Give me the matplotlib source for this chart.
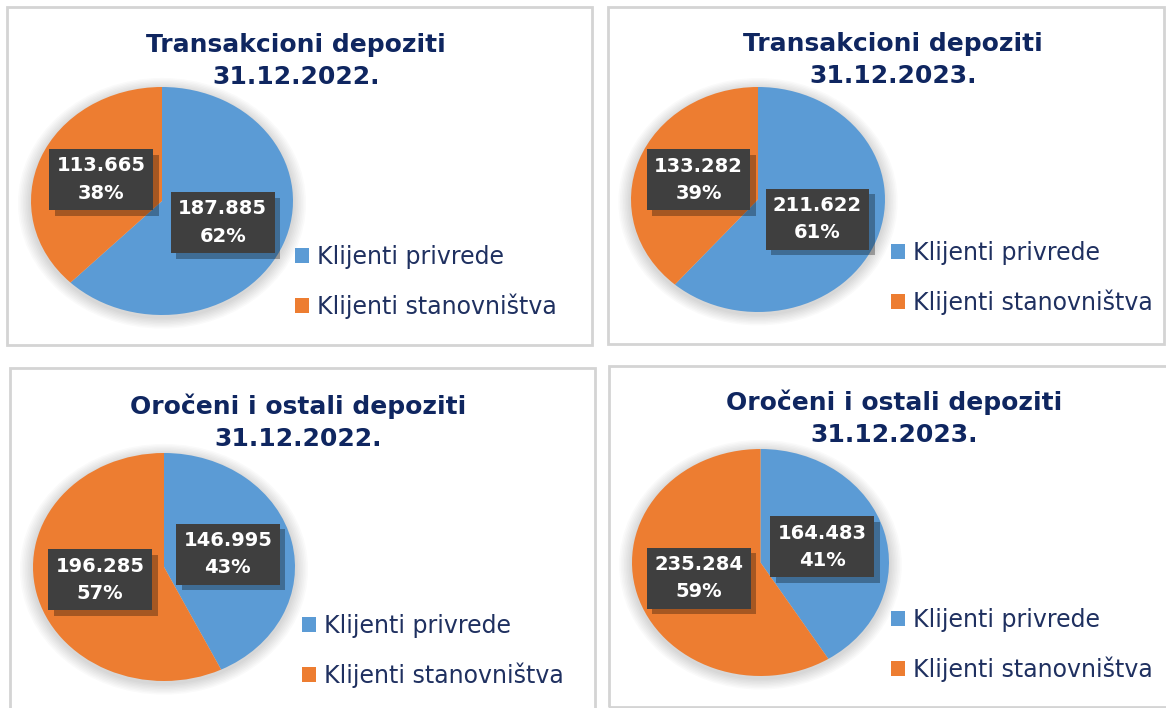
import numpy as np
import matplotlib.pyplot as plt
from matplotlib.patches import Rectangle, Ellipse
import matplotlib.patheffects as pe

W, H = 1166, 708

# data
titles = ["Transakcioni depoziti\n31.12.2022.",
          "Transakcioni depoziti\n31.12.2023.",
          "Oročeni i ostali depoziti\n31.12.2022.",
          "Oročeni i ostali depoziti\n31.12.2023."]
privrede = [187885, 211622, 146995, 164483]
stanovnistvo = [113665, 133282, 196285, 235284]
legend_labels = ["Klijenti privrede", "Klijenti stanovništva"]
colors = ["#5b9bd5", "#ed7d31"]

# layout in pixels (x0, y0, x1, y1), y from top
borders = [(7, 7, 592, 345), (608, 7, 1164, 344), (10, 368, 595, 712), (609, 366, 1170, 707)]
pie_boxes = [(31, 87, 293, 315), (631, 87, 885, 312), (33, 453, 295, 681), (632, 449, 889, 676)]
title_pos = [(296, 61), (893, 60), (298, 422), (894, 418)]
legend_pos = [(295, 282), (891, 278), (302, 651), (891, 645)]

navy = "#0f2660"


def fx(x):
    return x / W


def fy(y):
    return 1 - y / H


def fmt(v):
    return "{:,}".format(v).replace(",", ".")


fig = plt.figure(figsize=(W / 100, H / 100), dpi=100)
fig.patch.set_facecolor("white")

for i in range(4):
    # panel border
    bx0, by0, bx1, by1 = borders[i]
    fig.add_artist(Rectangle((fx(bx0), fy(by1)), fx(bx1) - fx(bx0), fy(by0) - fy(by1),
                             transform=fig.transFigure, fill=False, ec="#d4d4d4", lw=2))

    px0, py0, px1, py1 = pie_boxes[i]
    ax = fig.add_axes([fx(px0), fy(py1), fx(px1) - fx(px0), fy(py0) - fy(py1)])

    # soft shadow behind the pie
    for k in range(8):
        s = 2.0 + 0.025 * (k + 1)
        ax.add_patch(Ellipse((0.0, -0.02), s, s, fc="#000000", alpha=0.018,
                             ec="none", clip_on=False, zorder=0))

    vals = [privrede[i], stanovnistvo[i]]
    wedges, _ = ax.pie(vals, colors=colors, startangle=90, counterclock=False,
                       radius=1, frame=True, wedgeprops=dict(zorder=1))
    ax.set_xlim(-1, 1)
    ax.set_ylim(-1, 1)
    ax.set_aspect("auto")
    ax.axis("off")

    # value / percent boxes on the wedge midlines
    total = sum(vals)
    for w, v in zip(wedges, vals):
        ang = np.deg2rad((w.theta1 + w.theta2) / 2)
        x, y = 0.5 * np.cos(ang), 0.5 * np.sin(ang)
        txt = "{}\n{:.0f}%".format(fmt(v), 100 * v / total)
        t = ax.text(x, y, txt, ha="center", va="center", color="white",
                    fontsize=14, fontweight="bold", linespacing=1.55, zorder=4,
                    bbox=dict(boxstyle="square,pad=0.38", fc="#3f3f3f", ec="none"))
        t.get_bbox_patch().set_path_effects(
            [pe.SimplePatchShadow(offset=(4, -4), shadow_rgbFace="#000000", alpha=0.3),
             pe.Normal()])

    tx, ty = title_pos[i]
    fig.text(fx(tx), fy(ty), titles[i], ha="center", va="center", color=navy,
             fontsize=18, fontweight="bold", linespacing=1.4)

    lx, ly = legend_pos[i]
    fig.legend(wedges, legend_labels, loc="center left", bbox_to_anchor=(fx(lx), fy(ly)),
               frameon=False, fontsize=17, handlelength=0.6, handleheight=0.6,
               handletextpad=0.35, labelspacing=1.05, borderpad=0, borderaxespad=0,
               labelcolor="#1f3060")

fig.savefig("out.png", dpi=100, facecolor="white")
